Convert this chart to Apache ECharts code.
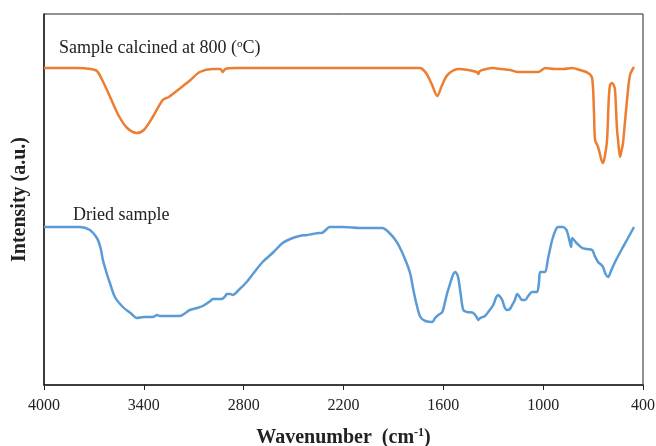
<!DOCTYPE html>
<html>
<head>
<meta charset="utf-8">
<script src="https://cdn.jsdelivr.net/npm/echarts@6/dist/echarts.min.js"></script>
<style>html,body{margin:0;padding:0;background:#fff;}#c{width:656px;height:446px;}</style>
</head>
<body>
<div id="c"></div>
<script>
// x tick labels (wavenumber, cm-1)
var xTicks = [4000, 3400, 2800, 2200, 1600, 1000, 400];
// Series names
var seriesNames = ['Sample calcined at 800 (oC)', 'Dried sample'];
// Calcined sample: wavenumber
var calcWn = [4000,3800,3720,3682,3650,3600,3550,3500,3442,3400,3350,3286,3250,3226,3180,3120,3064,2986,2940,2926,2910,2850,2600,2400,2200,2000,1800,1740,1726,1700,1670,1636,1610,1580,1546,1510,1450,1400,1390,1380,1340,1306,1250,1200,1150,1080,1030,1000,988,930,880,826,780,730,706,695,688,670,650,640,628,616,606,598,586,574,568,556,550,538,528,520,510,496,478,454];
// Calcined sample: intensity (a.u.)
var calcI = [317,317,316,314,305,287,269,257,252,255,267,285,288,291,297,305,313,316,316,313,316,317,317,317,317,317,317,317,316,311,301,289,299,309,314,316,315,313,311,314,316,317,316,315,313,313,313,316,317,316,316,317,315,312,307,275,245,238,225,222,230,245,285,300,302,299,295,255,245,228,235,242,260,285,310,318];
// Dried sample: wavenumber
var driedWn = [4000,3900,3784,3724,3682,3660,3646,3620,3604,3574,3526,3480,3442,3400,3346,3320,3304,3250,3184,3150,3124,3080,3046,3000,2986,2932,2910,2902,2880,2866,2830,2782,2740,2686,2620,2566,2520,2464,2420,2386,2350,2332,2300,2284,2200,2100,2050,1966,1930,1888,1860,1828,1800,1780,1760,1738,1708,1666,1650,1630,1606,1590,1575,1558,1540,1528,1518,1510,1495,1480,1456,1420,1400,1390,1378,1350,1330,1300,1282,1270,1258,1246,1230,1216,1200,1186,1170,1156,1145,1126,1108,1090,1066,1050,1036,1025,1018,1000,988,970,946,925,910,880,860,850,840,832,826,800,766,740,706,690,670,650,640,625,610,590,568,530,490,454];
// Dried sample: intensity (a.u.)
var driedI = [158,158,158,155,147,137,125,110,102,88,78,72,67,68,68,70,69,69,69,72,75,77,79,84,86,86,89,91,91,90,95,103,112,123,133,142,146,149,150,151,152,152,156,158,158,157,157,157,153,145,137,125,112,95,80,68,64,63,67,70,73,83,93,102,111,113,111,107,90,75,73,72,68,65,67,69,73,80,88,90,88,85,77,75,76,80,85,91,89,85,85,89,93,93,93,103,113,113,113,127,145,155,158,158,155,150,143,138,147,142,137,136,135,129,123,120,118,111,108,115,123,135,147,158];

function pairs(xs, ys){ var o=[]; for(var i=0;i<xs.length;i++) o.push([xs[i], ys[i]]); return o; }

var serif = 'Liberation Serif, Times New Roman, serif';
var chart = echarts.init(document.getElementById('c'));
chart.setOption({
  animation: false,
  backgroundColor: '#fff',
  grid: {left: 44, right: 13, top: 14, bottom: 61, show: true, borderColor: '#222', borderWidth: 1,
    containLabel: false, outerBoundsMode: 'none'},
  xAxis: {
    type: 'value', min: 400, max: 4000, inverse: true,
    axisLine: {show: true, lineStyle: {color: '#222', width: 1.5}},
    axisTick: {show: true, length: 5, lineStyle: {color: '#222'}, customValues: xTicks},
    axisLabel: {customValues: xTicks, fontFamily: serif, fontSize: 16, color: '#222', margin: 13,
      formatter: function(v){ return String(v); }},
    splitLine: {show: false},
    name: '{b|Wavenumber  (cm}{s|-1}{b|)}',
    nameLocation: 'middle', nameGap: 42,
    nameTextStyle: {
      rich: {
        b: {fontFamily: serif, fontSize: 20, fontWeight: 'bold', color: '#222'},
        s: {fontFamily: serif, fontSize: 12, fontWeight: 'bold', color: '#222', verticalAlign: 'top', padding: [0,0,9,0]}
      }
    }
  },
  yAxis: {
    type: 'value', min: 0, max: 371,
    axisLine: {show: true, lineStyle: {color: '#222', width: 1.5}},
    axisTick: {show: false}, axisLabel: {show: false}, splitLine: {show: false},
    name: 'Intensity (a.u.)', nameLocation: 'middle', nameGap: 14,
    nameTextStyle: {fontFamily: serif, fontSize: 20, fontWeight: 'bold', color: '#222'}
  },
  series: [
    {name: seriesNames[0], type: 'line', data: pairs(calcWn, calcI), showSymbol: false, smooth: 0.3,
     lineStyle: {color: '#ED7D31', width: 2.5}, itemStyle: {color: '#ED7D31'}},
    {name: seriesNames[1], type: 'line', data: pairs(driedWn, driedI), showSymbol: false, smooth: 0.3,
     lineStyle: {color: '#5B9BD5', width: 2.5}, itemStyle: {color: '#5B9BD5'}}
  ],
  graphic: [
    {type: 'text', left: 59, top: 39, style: {
      text: '{n|Sample calcined at 800 (}{s|o}{n|C)}',
      rich: {
        n: {fontFamily: serif, fontSize: 18, fill: '#222'},
        s: {fontFamily: serif, fontSize: 11, fill: '#222', verticalAlign: 'top', padding: [0,0,7,0]}
      }}},
    {type: 'text', left: 73, top: 206, style: {text: 'Dried sample', fontFamily: serif, fontSize: 18, fill: '#222'}}
  ]
});
</script>
</body>
</html>
